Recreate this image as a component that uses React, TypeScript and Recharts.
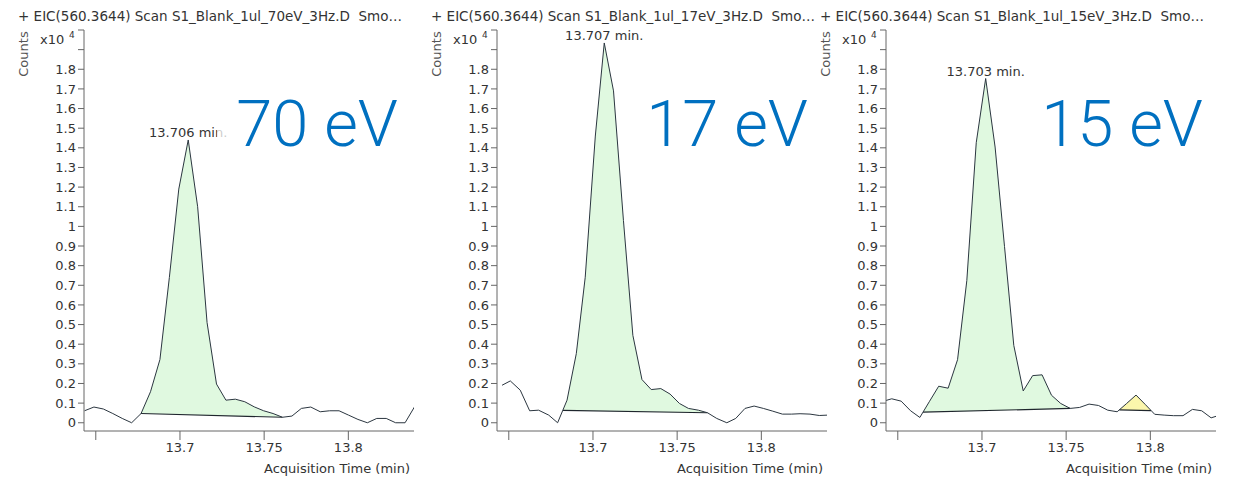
import React from 'react';
import { ComposedChart, Line, Area, XAxis, YAxis, ReferenceDot } from 'recharts';

const FONT = '"DejaVu Sans", Verdana, sans-serif';

const X_TICKS = [13.65, 13.7, 13.75, 13.8];
const Y_TICKS = [0, 0.1, 0.2, 0.3, 0.4, 0.5, 0.6, 0.7, 0.8, 0.9, 1, 1.1, 1.2, 1.3, 1.4, 1.5, 1.6, 1.7, 1.8, 1.9, 2];

// 70 eV trace (counts x10^4)
const TIMES_70 = [13.6433, 13.6489, 13.6545, 13.6601, 13.6657, 13.6713, 13.6769, 13.6825, 13.6881, 13.6937, 13.6993, 13.7049, 13.7105, 13.7161, 13.7217, 13.7273, 13.7329, 13.7385, 13.7441, 13.7497, 13.7553, 13.7609, 13.7665, 13.7721, 13.7777, 13.7833, 13.7889, 13.7945, 13.8001, 13.8057, 13.8113, 13.8169, 13.8225, 13.8281, 13.8337, 13.8393];
const COUNTS_70 = [0.061, 0.08, 0.07, 0.047, 0.022, 0.0, 0.047, 0.158, 0.322, 0.74, 1.19, 1.44, 1.1, 0.51, 0.197, 0.115, 0.12, 0.107, 0.081, 0.061, 0.047, 0.028, 0.034, 0.073, 0.08, 0.056, 0.061, 0.061, 0.039, 0.017, 0.0, 0.022, 0.022, 0.0, 0.0, 0.081];
const PEAK_70_T = [13.6769, 13.6825, 13.6881, 13.6937, 13.6993, 13.7049, 13.7105, 13.7161, 13.7217, 13.7273, 13.7329, 13.7385, 13.7441, 13.7497, 13.7553, 13.7609];
const PEAK_70_TOP = [0.047, 0.158, 0.322, 0.74, 1.19, 1.44, 1.1, 0.51, 0.197, 0.115, 0.12, 0.107, 0.081, 0.061, 0.047, 0.028];
const PEAK_70_BASE = [0.047, 0.046, 0.045, 0.044, 0.042, 0.041, 0.04, 0.039, 0.038, 0.036, 0.035, 0.034, 0.033, 0.032, 0.03, 0.028];

// 17 eV trace
const TIMES_17 = [13.646, 13.6509, 13.6568, 13.6624, 13.6677, 13.6737, 13.679, 13.6846, 13.6901, 13.6954, 13.7014, 13.7067, 13.7122, 13.7181, 13.7237, 13.7291, 13.7346, 13.7403, 13.7458, 13.7514, 13.7567, 13.7626, 13.768, 13.7735, 13.7795, 13.7848, 13.7903, 13.7957, 13.8012, 13.8068, 13.8125, 13.818, 13.823, 13.8289, 13.8344, 13.8397];
const COUNTS_17 = [0.191, 0.213, 0.166, 0.061, 0.064, 0.039, 0.0, 0.115, 0.352, 0.741, 1.46, 1.934, 1.69, 1.03, 0.445, 0.22, 0.169, 0.174, 0.146, 0.098, 0.073, 0.064, 0.051, 0.022, 0.0, 0.022, 0.073, 0.085, 0.073, 0.059, 0.044, 0.044, 0.046, 0.044, 0.037, 0.039];
const PEAK_17_T = [13.6822, 13.6846, 13.6901, 13.6954, 13.7014, 13.7067, 13.7122, 13.7181, 13.7237, 13.7291, 13.7346, 13.7403, 13.7458, 13.7514, 13.7567, 13.7626, 13.768];
const PEAK_17_TOP = [0.063, 0.115, 0.352, 0.741, 1.46, 1.934, 1.69, 1.03, 0.445, 0.22, 0.169, 0.174, 0.146, 0.098, 0.073, 0.064, 0.051];
const PEAK_17_BASE = [0.063, 0.063, 0.062, 0.061, 0.06, 0.06, 0.059, 0.058, 0.057, 0.056, 0.056, 0.055, 0.054, 0.053, 0.052, 0.052, 0.051];

// 15 eV trace
const TIMES_15 = [13.6408, 13.6464, 13.652, 13.6576, 13.6631, 13.6687, 13.6743, 13.6799, 13.6855, 13.691, 13.6966, 13.7022, 13.7078, 13.7134, 13.7189, 13.7245, 13.7301, 13.7357, 13.7413, 13.7468, 13.7524, 13.758, 13.7636, 13.7692, 13.7747, 13.7803, 13.7859, 13.7915, 13.7971, 13.8026, 13.8082, 13.8138, 13.8194, 13.825, 13.8305, 13.8361, 13.8417];
const COUNTS_15 = [0.108, 0.122, 0.11, 0.061, 0.027, 0.107, 0.186, 0.176, 0.321, 0.724, 1.426, 1.753, 1.404, 0.897, 0.394, 0.162, 0.24, 0.244, 0.14, 0.098, 0.073, 0.078, 0.095, 0.088, 0.064, 0.056, 0.098, 0.141, 0.092, 0.043, 0.039, 0.036, 0.036, 0.068, 0.061, 0.025, 0.04];
const PEAK_15_T = [13.665, 13.6687, 13.6743, 13.6799, 13.6855, 13.691, 13.6966, 13.7022, 13.7078, 13.7134, 13.7189, 13.7245, 13.7301, 13.7357, 13.7413, 13.7468, 13.7524];
const PEAK_15_TOP = [0.054, 0.107, 0.186, 0.176, 0.321, 0.724, 1.426, 1.753, 1.404, 0.897, 0.394, 0.162, 0.24, 0.244, 0.14, 0.098, 0.073];
const PEAK_15_BASE = [0.054, 0.055, 0.056, 0.057, 0.058, 0.059, 0.06, 0.061, 0.062, 0.064, 0.065, 0.066, 0.067, 0.069, 0.07, 0.071, 0.073];
const MINOR_15_T = [13.7816, 13.7859, 13.7915, 13.7971, 13.8004];
const MINOR_15_TOP = [0.066, 0.098, 0.141, 0.092, 0.062];
const MINOR_15_BASE = [0.066, 0.065, 0.064, 0.063, 0.062];

const GREEN = '#e0f9e0';
const YELLOW = '#fbf6ac';
const LINE = '#2b3640';

type Peak = { times: number[]; top: number[]; base: number[]; fill: string };

interface PanelProps {
  left: number;
  title: string;
  energy: string;
  energyX: number;
  times: number[];
  counts: number[];
  peaks: Peak[];
  apex: { t: number; v: number; label: string };
  veil?: boolean;
}

function Panel({ left, title, energy, energyX, times, counts, peaks, apex, veil }: PanelProps) {
  const main = times.map((t, i) => ({ t, v: counts[i] }));

  return (
    <div style={{ position: 'absolute', left, top: 0, width: 420, height: 479 }}>
      <ComposedChart width={420} height={479} margin={{ top: 30, right: 6, bottom: 0, left: 0 }}>
        <XAxis
          type="number"
          dataKey="t"
          domain={[13.643, 13.839]}
          allowDataOverflow
          ticks={X_TICKS}
          tickFormatter={(v: number) => (v === 13.65 ? '' : String(v))}
          height={48}
          stroke="#666"
          tickSize={9}
          tickMargin={3}
          tick={{ fill: '#333', fontSize: 13, fontFamily: FONT }}
        />
        <YAxis
          type="number"
          domain={[-0.042, 2]}
          allowDataOverflow
          ticks={Y_TICKS}
          interval={0}
          tickFormatter={(v: number) => (v > 1.85 ? '' : String(v))}
          width={84}
          stroke="#666"
          tickSize={6}
          tickMargin={2}
          tick={{ fill: '#333', fontSize: 13, fontFamily: FONT }}
        />
        {peaks.map((p, k) => (
          <Area
            key={`area-${k}`}
            data={p.times.map((t, i) => ({ t, band: [p.base[i], p.top[i]] }))}
            dataKey="band"
            type="linear"
            stroke="none"
            fill={p.fill}
            fillOpacity={1}
            isAnimationActive={false}
          />
        ))}
        {peaks.map((p, k) => (
          <Line
            key={`base-${k}`}
            data={[
              { t: p.times[0], v: p.base[0] },
              { t: p.times[p.times.length - 1], v: p.base[p.base.length - 1] },
            ]}
            dataKey="v"
            type="linear"
            stroke="#1f262d"
            strokeWidth={1.2}
            dot={false}
            isAnimationActive={false}
          />
        ))}
        <Line data={main} dataKey="v" type="linear" stroke={LINE} strokeWidth={1} dot={false} isAnimationActive={false} />
        <ReferenceDot
          x={apex.t}
          y={apex.v}
          r={0}
          stroke="none"
          label={{ value: apex.label, position: 'top', offset: 3, fill: '#333', fontSize: 13, fontFamily: FONT }}
        />
      </ComposedChart>
      <svg width={420} height={479} style={{ position: 'absolute', left: 0, top: 0, pointerEvents: 'none' }}>
        <text x={18} y={20.5} fontSize={13.5} fill="#333" fontFamily={FONT} style={{ whiteSpace: 'pre' }}>
          {title}
        </text>
        <text
          x={23}
          y={54}
          fontSize={13}
          fill="#555"
          fontFamily={FONT}
          textAnchor="middle"
          dominantBaseline="central"
          transform="rotate(-90 23 54)"
        >
          Counts
        </text>
        <text x={40} y={44} fontSize={13} fill="#333" fontFamily={FONT}>
          x10
        </text>
        <text x={69} y={38} fontSize={9} fill="#333" fontFamily={FONT}>
          4
        </text>
        <text x={410} y={473} fontSize={13} fill="#333" fontFamily={FONT} textAnchor="end">
          Acquisition Time (min)
        </text>
        {veil && <rect x={217} y={120} width={190} height={22} fill="#fff" fillOpacity={0.75} />}
        <text x={energyX} y={146} fontSize={65} fontWeight={300} fill="#0070c0" fontFamily="Roboto, sans-serif" textAnchor="end">
          {energy}
        </text>
      </svg>
    </div>
  );
}

export default function App() {
  return (
    <div style={{ position: 'absolute', left: 0, top: 0, width: 1240, height: 479, background: '#fff', overflow: 'hidden' }}>
      <Panel
        left={0}
        title={'+ EIC(560.3644) Scan S1_Blank_1ul_70eV_3Hz.D  Smo\u2026'}
        energy="70 eV"
        energyX={398}
        times={TIMES_70}
        counts={COUNTS_70}
        peaks={[{ times: PEAK_70_T, top: PEAK_70_TOP, base: PEAK_70_BASE, fill: GREEN }]}
        apex={{ t: 13.7049, v: 1.44, label: '13.706 min.' }}
        veil
      />
      <Panel
        left={413}
        title={'+ EIC(560.3644) Scan S1_Blank_1ul_17eV_3Hz.D  Smo\u2026'}
        energy="17 eV"
        energyX={395}
        times={TIMES_17}
        counts={COUNTS_17}
        peaks={[{ times: PEAK_17_T, top: PEAK_17_TOP, base: PEAK_17_BASE, fill: GREEN }]}
        apex={{ t: 13.7067, v: 1.934, label: '13.707 min.' }}
      />
      <Panel
        left={802}
        title={'+ EIC(560.3644) Scan S1_Blank_1ul_15eV_3Hz.D  Smo\u2026'}
        energy="15 eV"
        energyX={401}
        times={TIMES_15}
        counts={COUNTS_15}
        peaks={[
          { times: PEAK_15_T, top: PEAK_15_TOP, base: PEAK_15_BASE, fill: GREEN },
          { times: MINOR_15_T, top: MINOR_15_TOP, base: MINOR_15_BASE, fill: YELLOW },
        ]}
        apex={{ t: 13.7022, v: 1.753, label: '13.703 min.' }}
      />
    </div>
  );
}
